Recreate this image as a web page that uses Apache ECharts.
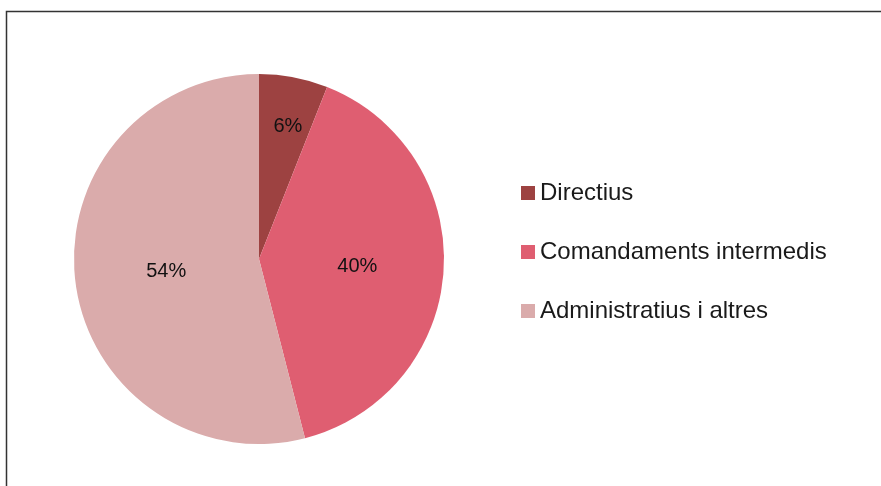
<!DOCTYPE html>
<html>
<head>
<meta charset="utf-8">
<script src="https://cdn.jsdelivr.net/npm/echarts@6/dist/echarts.min.js"></script>
<style>
  html, body { margin: 0; padding: 0; background: #fff; }
  #main { width: 881px; height: 486px; }
</style>
</head>
<body>
<div id="main"></div>
<script>
var categories = ['Directius', 'Comandaments intermedis', 'Administratius i altres'];
var values = [6, 40, 54];
var colors = ['#9d4241', '#df5e71', '#daabab'];

// Excel-style label nudges (dx, dy) per slice
var labelShift = [[11, -39], [3, 1], [2, 1]];

var myChart = echarts.init(document.getElementById('main'));

var pieData = categories.map(function (name, i) {
    return { name: name, value: values[i], itemStyle: { color: colors[i] } };
});

var option = {
    animation: false,
    graphic: [{
        type: 'rect',
        shape: { x: 6.5, y: 11.5, width: 900, height: 500 },
        style: { fill: 'none', stroke: '#333', lineWidth: 1.5 },
        silent: true
    }],
    legend: {
        orient: 'vertical',
        left: 521,
        top: 181,
        padding: 0,
        itemWidth: 14,
        itemHeight: 14,
        itemGap: 35,
        icon: 'rect',
        textStyle: {
            fontFamily: 'Liberation Sans',
            fontSize: 24,
            color: '#1a1a1a'
        },
        data: categories
    },
    series: [{
        type: 'pie',
        center: [259, 259],
        radius: 185,
        startAngle: 90,
        clockwise: true,
        label: {
            position: 'inside',
            formatter: '{d}%',
            fontFamily: 'Liberation Sans',
            fontSize: 20,
            color: '#111'
        },
        labelLine: { show: false },
        labelLayout: function (params) {
            var s = labelShift[params.dataIndex];
            return { dx: s[0], dy: s[1] };
        },
        itemStyle: { borderWidth: 0 },
        emphasis: { disabled: true },
        data: pieData
    }]
};

myChart.setOption(option);
</script>
</body>
</html>
